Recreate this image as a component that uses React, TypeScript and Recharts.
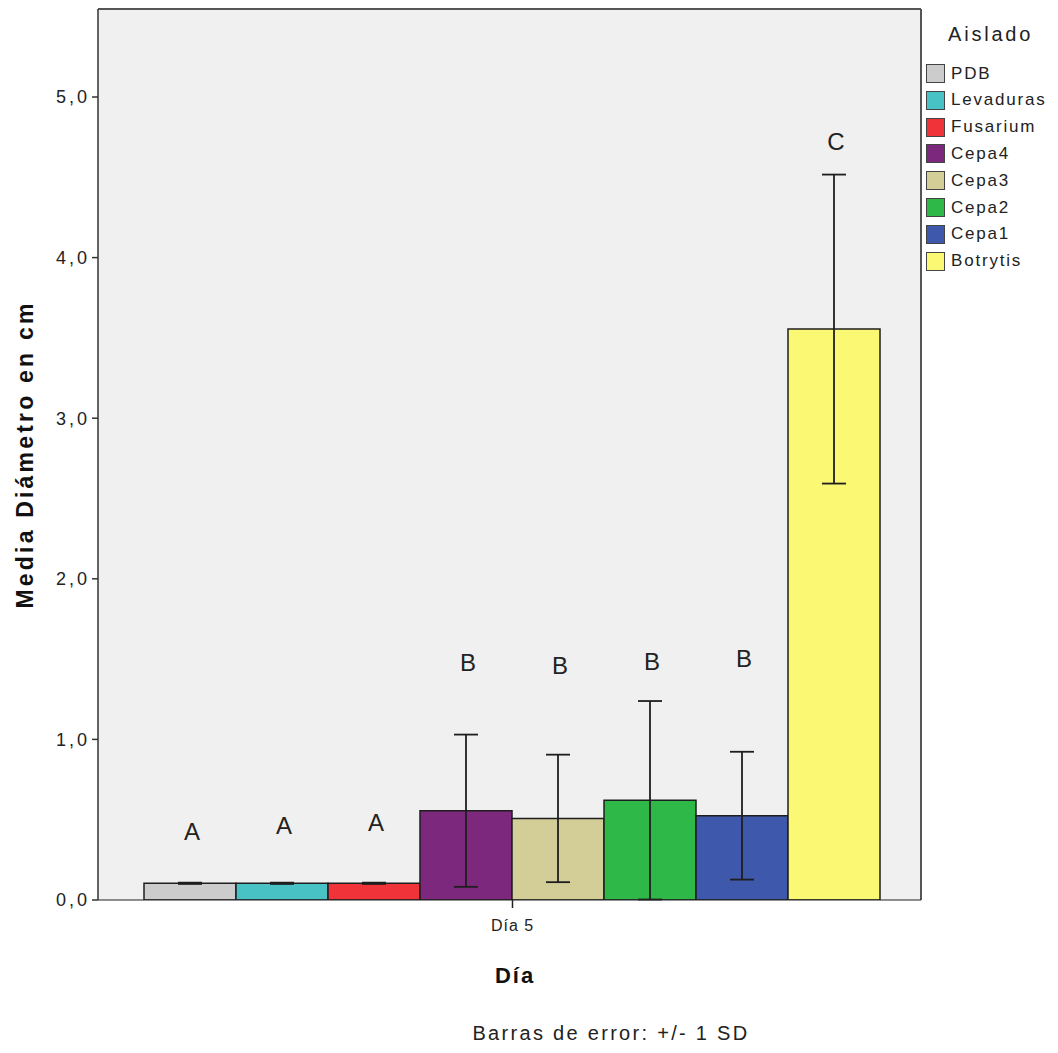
import React from 'react';
import { BarChart, Bar, XAxis, YAxis, CartesianGrid, ErrorBar, LabelList, Label, ReferenceLine, ReferenceArea } from 'recharts';

const categories = ['Día 5'];
const seriesNames = ['PDB', 'Levaduras', 'Fusarium', 'Cepa4', 'Cepa3', 'Cepa2', 'Cepa1', 'Botrytis'];
const means = [0.104, 0.104, 0.104, 0.556, 0.508, 0.621, 0.525, 3.555];
const sds = [0.004, 0.004, 0.004, 0.474, 0.397, 0.618, 0.398, 0.962];
const letters = ['A', 'A', 'A', 'B', 'B', 'B', 'B', 'C'];
const letterPos = [0.425, 0.467, 0.481, 1.476, 1.463, 1.484, 1.505, 4.72];
const colors = ['#cccccc', '#48c2c5', '#ef3338', '#7c287d', '#d3ce97', '#2eb848', '#3e58ac', '#fbf873'];
const yTicks = [0, 1, 2, 3, 4, 5];
const yMax = 5.548;

const data = categories.map((c) => {
  const row: Record<string, any> = { day: c };
  seriesNames.forEach((n, i) => {
    row[n] = means[i];
    row[n + '_sd'] = sds[i];
  });
  return row;
});

const FONT = '"Liberation Sans", Arial, sans-serif';
const TXT = '#222222';

const renderLetter = (i: number) => (p: any) => {
  const vb = p.viewBox ?? p;
  const x = Number(vb.x ?? p.x);
  const y = Number(vb.y ?? p.y);
  const w = Number(vb.width ?? p.width);
  const h = Number(vb.height ?? p.height);
  if (!isFinite(x) || !isFinite(y) || !h) return null;
  const base = y + h;
  const ppu = h / means[i];
  const cy = base - letterPos[i] * ppu;
  return (
    <text
      x={x + w / 2 + 2}
      y={cy}
      textAnchor="middle"
      dominantBaseline="central"
      fontSize={24}
      fontFamily={FONT}
      fill={TXT}
    >
      {letters[i]}
    </text>
  );
};

const YTitle = (p: any) => {
  const vb = p.viewBox;
  const cx = 17;
  const cy = vb.y + vb.height / 2;
  return (
    <text
      x={cx}
      y={cy}
      transform={`rotate(-90 ${cx} ${cy})`}
      textAnchor="middle"
      dominantBaseline="central"
      fontSize={23}
      fontWeight="bold"
      letterSpacing={3.2}
      fontFamily={FONT}
      fill="#111"
    >
      Media Diámetro en cm
    </text>
  );
};

const XTitle = (p: any) => {
  const vb = p.viewBox;
  return (
    <text
      x={507}
      y={vb.y + 75}
      textAnchor="middle"
      dominantBaseline="central"
      fontSize={22}
      fontWeight="bold"
      letterSpacing={2}
      fontFamily={FONT}
      fill="#111"
    >
      Día
    </text>
  );
};

// Right edge of the frame only (top/left/bottom handled by lines/axes)
const RightEdge = (p: any) => {
  const { x, y, width, height } = p;
  if (!isFinite(x) || !isFinite(width)) return null;
  return <line x1={x + width} y1={y} x2={x + width} y2={y + height} stroke="#555" strokeWidth={2} />;
};

export default function App() {
  return (
    <div style={{ position: 'relative', width: 1050, height: 1045 }}>
      <BarChart
        width={1050}
        height={1045}
        data={data}
        margin={{ top: 1, right: 137, bottom: 0, left: 0 }}
        barGap={0}
        barCategoryGap={40}
      >
        <CartesianGrid horizontal={false} vertical={false} fill="#f0f0f0" />
        <ReferenceArea y1={0} y2={yMax} ifOverflow="visible" shape={RightEdge} />
        <ReferenceLine y={yMax} stroke="#555" strokeWidth={2} ifOverflow="visible" />
        <XAxis
          dataKey="day"
          height={153}
          padding={{ left: 6, right: 0 }}
          tickSize={8}
          tickMargin={12}
          axisLine={{ stroke: '#222', strokeWidth: 1.2 }}
          tickLine={{ stroke: '#222', strokeWidth: 1.5 }}
          tick={{ fontSize: 16, fill: TXT, fontFamily: FONT, letterSpacing: 1 }}
        >
          <Label content={XTitle} />
        </XAxis>
        <YAxis
          width={90}
          domain={[0, yMax]}
          ticks={yTicks}
          allowDataOverflow
          tickFormatter={(v: number) => v.toFixed(1).replace('.', ',')}
          tickSize={6}
          tickMargin={2}
          axisLine={{ stroke: '#333', strokeWidth: 1.5 }}
          tickLine={{ stroke: '#333', strokeWidth: 1.5 }}
          tick={{ fontSize: 18, fill: TXT, fontFamily: FONT, letterSpacing: 3 }}
        >
          <Label content={YTitle} />
        </YAxis>
        {seriesNames.map((n, i) => (
          <Bar
            key={n}
            dataKey={n}
            fill={colors[i]}
            stroke="#1e1e1e"
            strokeWidth={1.5}
            isAnimationActive={false}
          >
            <ErrorBar dataKey={n + '_sd'} width={12} stroke="#1e1e1e" strokeWidth={1.8} direction="y" />
            <LabelList dataKey={n} content={renderLetter(i)} />
          </Bar>
        ))}
      </BarChart>

      <div
        style={{
          position: 'absolute',
          left: 912,
          top: 0,
          width: 138,
          fontFamily: FONT,
          color: TXT,
        }}
      >
        <div
          style={{
            position: 'absolute',
            left: 28,
            top: 13,
            fontSize: 20,
            letterSpacing: 2.8,
            lineHeight: '26px',
            whiteSpace: 'nowrap',
          }}
        >
          Aislado
        </div>
        {seriesNames.map((n, i) => (
          <div
            key={n}
            style={{
              position: 'absolute',
              left: 6,
              top: 55 + i * 26.8,
              height: 21,
              display: 'flex',
              alignItems: 'center',
              whiteSpace: 'nowrap',
            }}
          >
            <div
              style={{
                width: 17,
                height: 17,
                background: colors[i],
                border: '1.5px solid #444',
                marginRight: 6,
              }}
            />
            <span style={{ fontSize: 17, letterSpacing: 1.8 }}>{n}</span>
          </div>
        ))}
      </div>

      <div
        style={{
          position: 'absolute',
          left: 0,
          width: 1206,
          top: 1014,
          textAlign: 'center',
          fontFamily: FONT,
          fontSize: 20,
          letterSpacing: 2.3,
          color: TXT,
          whiteSpace: 'nowrap',
        }}
      >
        Barras de error: +/- 1 SD
      </div>
    </div>
  );
}
